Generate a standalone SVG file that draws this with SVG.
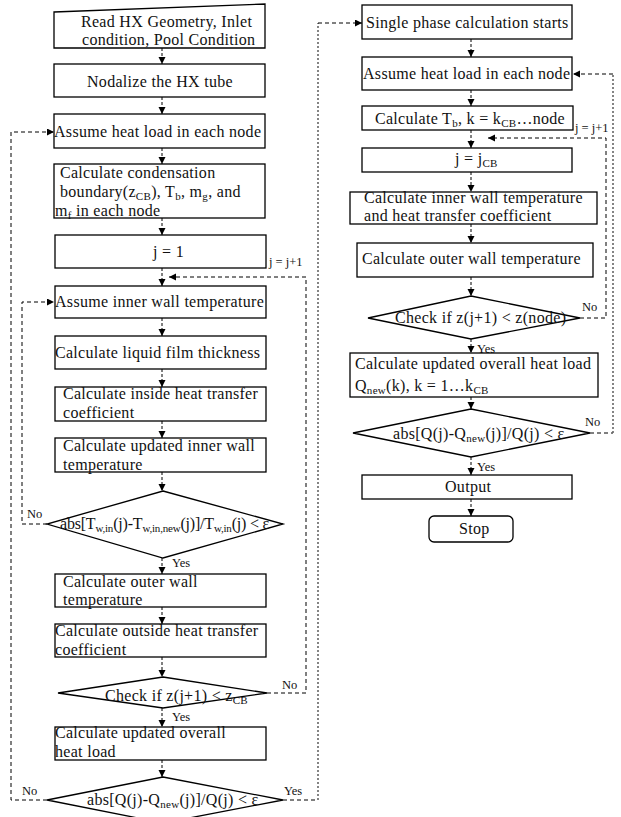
<svg xmlns="http://www.w3.org/2000/svg" width="621" height="817" viewBox="0 0 621 817">
<style>
.b{fill:#fff;stroke:#000;stroke-width:1.3}
.t{font-family:"Liberation Serif",serif;font-size:16px;fill:#111;letter-spacing:0.3px}
.s{font-size:11px}
.l{font-family:"Liberation Serif",serif;font-size:12.5px;fill:#111}
.c{fill:none;stroke:#000;stroke-width:1;stroke-dasharray:3,2}
.d{fill:none;stroke:#000;stroke-width:1;stroke-dasharray:4,3}
.g{fill:none;stroke:#666;stroke-width:1.6;stroke-dasharray:2,2}
</style>
<defs>
<marker id="a" markerUnits="userSpaceOnUse" markerWidth="8" markerHeight="8" refX="7" refY="3.5" orient="auto"><path d="M0,0 L7,3.5 L0,7 z" fill="#000"/></marker>
</defs>
<rect width="621" height="817" fill="#fff"/>
<g id="connectors">
<path class="c" d="M162,48 V64" marker-end="url(#a)"/>
<path class="c" d="M162,97 V114" marker-end="url(#a)"/>
<path class="c" d="M162,148 V164" marker-end="url(#a)"/>
<path class="c" d="M162,218 V235" marker-end="url(#a)"/>
<path class="c" d="M162,268 V286" marker-end="url(#a)"/>
<path class="c" d="M162,318 V336" marker-end="url(#a)"/>
<path class="c" d="M162,369 V387" marker-end="url(#a)"/>
<path class="c" d="M162,421 V438" marker-end="url(#a)"/>
<path class="c" d="M162,472 V491" marker-end="url(#a)"/>
<path class="c" d="M162,558 V574" marker-end="url(#a)"/>
<path class="c" d="M162,607 V624" marker-end="url(#a)"/>
<path class="c" d="M162,657 V677" marker-end="url(#a)"/>
<path class="c" d="M162,708 V727" marker-end="url(#a)"/>
<path class="c" d="M162,760 V777" marker-end="url(#a)"/>
<path class="d" d="M267,693 H306 V277 H169" marker-end="url(#a)"/>
<path class="d" d="M47,524 H22 V302 H54" marker-end="url(#a)"/>
<path class="d" d="M47,800 H11 V132 H54" marker-end="url(#a)"/>
<path class="d" d="M283,800 H318"/>
<path class="g" d="M318,800 V23"/>
<path class="d" d="M318,23 H362" marker-end="url(#a)"/>
<path class="c" d="M471,39 V57" marker-end="url(#a)"/>
<path class="c" d="M471,90 V106" marker-end="url(#a)"/>
<path class="c" d="M471,130 V148" marker-end="url(#a)"/>
<path class="c" d="M471,172 V192" marker-end="url(#a)"/>
<path class="c" d="M471,224 V243" marker-end="url(#a)"/>
<path class="c" d="M471,277 V296" marker-end="url(#a)"/>
<path class="c" d="M471,339 V353" marker-end="url(#a)"/>
<path class="c" d="M471,397 V409" marker-end="url(#a)"/>
<path class="c" d="M471,457 V475" marker-end="url(#a)"/>
<path class="c" d="M471,499 V516" marker-end="url(#a)"/>
<path class="d" d="M580,318 H606 V138 H488" marker-end="url(#a)"/>
<path class="d" d="M590,433 H613"/>
<path class="g" d="M613,433 V74"/>
<path class="d" d="M613,74 H573" marker-end="url(#a)"/>
<text class="l" x="269" y="266">j = j+1</text>
<text class="l" x="27" y="518">No</text>
<text class="l" x="172" y="567">Yes</text>
<text class="l" x="282" y="689">No</text>
<text class="l" x="172" y="721">Yes</text>
<text class="l" x="22" y="795">No</text>
<text class="l" x="284" y="795">Yes</text>
<text class="l" x="575" y="132">j = j+1</text>
<text class="l" x="582" y="311">No</text>
<text class="l" x="477" y="353">Yes</text>
<text class="l" x="585" y="426">No</text>
<text class="l" x="477" y="471">Yes</text>
</g>
<g id="n1"><polygon class="b" points="54,12 265,4 265,48 54,48"/>
<text class="t" x="81" y="27">Read HX Geometry, Inlet</text>
<text class="t" x="82" y="45">condition, Pool Condition</text></g>
<g id="n2"><rect class="b" x="54" y="64" width="211" height="33"/>
<text class="t" x="87" y="87">Nodalize the HX tube</text></g>
<g id="n3"><rect class="b" x="54" y="114" width="211" height="34"/>
<text class="t" x="54" y="137">Assume heat load in each node</text></g>
<g id="n4"><rect class="b" x="54" y="164" width="211" height="54"/>
<text class="t" x="60" y="178">Calculate condensation</text>
<text class="t" x="60" y="197">boundary(z<tspan class="s" dy="3">CB</tspan><tspan dy="-3">), T</tspan><tspan class="s" dy="3">b</tspan><tspan dy="-3">, m</tspan><tspan class="s" dy="3">g</tspan><tspan dy="-3">, and</tspan></text>
<text class="t" x="55" y="216">m<tspan class="s" dy="3">f</tspan><tspan dy="-3"> in each node</tspan></text></g>
<g id="n5"><rect class="b" x="55" y="235" width="211" height="33"/>
<text class="t" x="153" y="257">j = 1</text></g>
<g id="n6"><rect class="b" x="55" y="286" width="211" height="32"/>
<text class="t" x="55" y="307">Assume inner wall temperature</text></g>
<g id="n7"><rect class="b" x="55" y="336" width="211" height="33"/>
<text class="t" x="55" y="358">Calculate liquid film thickness</text></g>
<g id="n8"><rect class="b" x="55" y="387" width="211" height="34"/>
<text class="t" x="63" y="399">Calculate inside heat transfer</text>
<text class="t" x="63" y="418">coefficient</text></g>
<g id="n9"><rect class="b" x="55" y="438" width="211" height="34"/>
<text class="t" x="63" y="451">Calculate updated inner wall</text>
<text class="t" x="63" y="470">temperature</text></g>
<g id="n10"><polygon class="b" points="163,491 283,524 163,558 47,524"/>
<text class="t" x="60" y="529" style="letter-spacing:-0.2px">abs[T<tspan class="s" dy="3">w,in</tspan><tspan dy="-3">(j)-T</tspan><tspan class="s" dy="3">w,in,new</tspan><tspan dy="-3">(j)]/T</tspan><tspan class="s" dy="3">w,in</tspan><tspan dy="-3">(j) &lt; ε</tspan></text></g>
<g id="n11"><rect class="b" x="55" y="574" width="211" height="33"/>
<text class="t" x="63" y="587">Calculate outer wall</text>
<text class="t" x="63" y="605">temperature</text></g>
<g id="n12"><rect class="b" x="55" y="624" width="211" height="33"/>
<text class="t" x="55" y="636">Calculate outside heat transfer</text>
<text class="t" x="55" y="655">coefficient</text></g>
<g id="n13"><polygon class="b" points="163,677 267,693 163,708 58,693"/>
<text class="t" x="105" y="701">Check if z(j+1) &lt; z<tspan class="s" dy="3">CB</tspan></text></g>
<g id="n14"><rect class="b" x="55" y="727" width="211" height="33"/>
<text class="t" x="55" y="738">Calculate updated overall</text>
<text class="t" x="55" y="757">heat load</text></g>
<g id="n15"><polygon class="b" points="163,777 283,800 163,823 47,800"/>
<text class="t" x="87" y="805">abs[Q(j)-Q<tspan class="s" dy="3">new</tspan><tspan dy="-3">(j)]/Q(j) &lt; ε</tspan></text></g>
<g id="r1"><rect class="b" x="362" y="5" width="210" height="34"/>
<text class="t" x="366" y="28">Single phase calculation starts</text></g>
<g id="r2"><rect class="b" x="362" y="57" width="210" height="33"/>
<text class="t" x="363" y="79">Assume heat load in each node</text></g>
<g id="r3"><rect class="b" x="362" y="106" width="211" height="24"/>
<text class="t" x="375" y="124">Calculate T<tspan class="s" dy="3">b</tspan><tspan dy="-3">, k = k</tspan><tspan class="s" dy="3">CB</tspan><tspan dy="-3">…node</tspan></text></g>
<g id="r4"><rect class="b" x="362" y="148" width="210" height="24"/>
<text class="t" x="455" y="164">j = j<tspan class="s" dy="3">CB</tspan></text></g>
<g id="r5"><rect class="b" x="350" y="192" width="247" height="32"/>
<text class="t" x="364" y="203">Calculate inner wall temperature</text>
<text class="t" x="364" y="221">and heat transfer coefficient</text></g>
<g id="r6"><rect class="b" x="357" y="243" width="236" height="34"/>
<text class="t" x="362" y="264">Calculate outer wall temperature</text></g>
<g id="r7"><polygon class="b" points="471,296 580,318 471,339 368,318"/>
<text class="t" x="395" y="323">Check if z(j+1) &lt; z(node)</text></g>
<g id="r8"><rect class="b" x="350" y="353" width="248" height="44"/>
<text class="t" x="355" y="369">Calculate updated overall heat load</text>
<text class="t" x="355" y="391">Q<tspan class="s" dy="3">new</tspan><tspan dy="-3">(k), k = 1…k</tspan><tspan class="s" dy="3">CB</tspan></text></g>
<g id="r9"><polygon class="b" points="471,409 590,433 471,457 353,433"/>
<text class="t" x="393" y="439">abs[Q(j)-Q<tspan class="s" dy="3">new</tspan><tspan dy="-3">(j)]/Q(j) &lt; ε</tspan></text></g>
<g id="r10"><rect class="b" x="362" y="475" width="210" height="24"/>
<text class="t" x="445" y="492">Output</text></g>
<g id="r11"><rect class="b" x="429" y="516" width="84" height="26" rx="5"/>
<text class="t" x="459" y="534">Stop</text></g>
</svg>
